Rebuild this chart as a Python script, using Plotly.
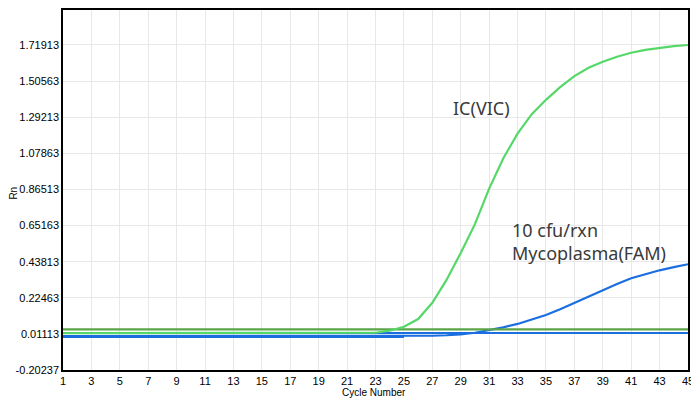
import plotly.graph_objects as go

cycles = list(range(1, 46))

vic_rn = [0.016] * 22 + [0.018, 0.030, 0.053, 0.099, 0.195, 0.330, 0.490, 0.660,
                          0.870, 1.050, 1.195, 1.310, 1.395, 1.470, 1.535, 1.585,
                          1.620, 1.650, 1.673, 1.690, 1.703, 1.712, 1.719]

fam_rn = [-0.002] * 26 + [0.000, 0.003, 0.008, 0.018, 0.033, 0.050, 0.070, 0.096,
                           0.123, 0.157, 0.195, 0.233, 0.271, 0.306, 0.340, 0.365,
                           0.387, 0.406, 0.423]

ntc_cycles = list(range(1, 26))
ntc_rn = [-0.006] * 25

vic_threshold = 0.038
fam_threshold = 0.017

ytick_vals = [-0.20237, 0.01113, 0.22463, 0.43813, 0.65163, 0.86513,
              1.07863, 1.29213, 1.50563, 1.71913]
ytick_text = ["-0.20237", "0.01113", "0.22463", "0.43813", "0.65163", "0.86513",
              "1.07863", "1.29213", "1.50563", "1.71913"]
xtick_vals = list(range(1, 46, 2))

label_vic = "IC(VIC)"
label_fam = "10 cfu/rxn<br>Mycoplasma(FAM)"
x_title = "Cycle Number"
y_title = "Rn"

GREEN_T = "#5aa548"
GREEN = "#55d868"
BLUE = "#1a6ee0"

fig = go.Figure()
fig.add_trace(go.Scatter(x=ntc_cycles, y=ntc_rn, mode="lines",
                         line=dict(color=BLUE, width=2.5), hoverinfo="skip"))
fig.add_trace(go.Scatter(x=cycles, y=fam_rn, mode="lines",
                         line=dict(color=BLUE, width=2.2), hoverinfo="skip"))
fig.add_trace(go.Scatter(x=[1, 45], y=[fam_threshold] * 2, mode="lines",
                         line=dict(color=BLUE, width=2), hoverinfo="skip"))
fig.add_trace(go.Scatter(x=[1, 45], y=[vic_threshold] * 2, mode="lines",
                         line=dict(color=GREEN_T, width=2.2), hoverinfo="skip"))
fig.add_trace(go.Scatter(x=cycles, y=vic_rn, mode="lines",
                         line=dict(color=GREEN, width=2.2), hoverinfo="skip"))

fig.add_annotation(x=28.3, y=1.347, text=label_vic, showarrow=False,
                   xanchor="left", yanchor="middle",
                   font=dict(family="Noto Sans", size=18, color="#3a3a3a"))
fig.add_annotation(x=32.45, y=0.56, text=label_fam, showarrow=False,
                   xanchor="left", yanchor="middle", align="left",
                   font=dict(family="Noto Sans", size=18, color="#3a3a3a"))

fig.add_annotation(xref="paper", yref="paper", x=0.498, y=0, yshift=-22,
                   text=x_title, showarrow=False, xanchor="center", yanchor="middle",
                   font=dict(size=10, color="#000000"))
fig.add_annotation(xref="paper", yref="paper", x=0, xshift=-49, y=0.49,
                   text=y_title, showarrow=False, textangle=-90,
                   xanchor="center", yanchor="middle",
                   font=dict(size=10, color="#000000"))

fig.update_layout(
    width=691, height=391,
    margin=dict(l=55, r=11, t=2, b=29),
    paper_bgcolor="white", plot_bgcolor="white",
    showlegend=False,
    font=dict(family="Liberation Sans, Arial", size=11, color="#000000"),
)
fig.update_xaxes(
    range=[1, 45], tickvals=xtick_vals, ticktext=[str(v) for v in xtick_vals],
    showgrid=True, gridcolor="#e8e8e8", gridwidth=1,
    showline=True, linecolor="black", linewidth=1.5, mirror=True,
    zeroline=False, ticks="", tickfont=dict(size=11), automargin=False,
)
fig.update_yaxes(
    range=[-0.20237, 1.926], tickvals=ytick_vals, ticktext=ytick_text,
    showgrid=True, gridcolor="#e8e8e8", gridwidth=1,
    showline=True, linecolor="black", linewidth=1.5, mirror=True,
    zeroline=False, ticks="", tickfont=dict(size=11), automargin=False,
)

fig.write_html("out.html")
